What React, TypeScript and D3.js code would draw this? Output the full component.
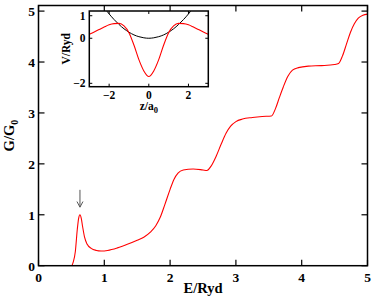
import React from 'react';
import * as d3 from 'd3';

// main curve: conductance G/G0 vs energy E/Ryd
const energy = [0, 0.5, 0.53, 0.56, 0.59, 0.61, 0.63, 0.65, 0.67, 0.7, 0.74, 0.8, 0.88, 0.95, 1.05, 1.2, 1.35, 1.5, 1.6, 1.7, 1.78, 1.85, 1.92, 2.0, 2.06, 2.12, 2.2, 2.35, 2.5, 2.56, 2.62, 2.7, 2.78, 2.85, 2.92, 3.0, 3.1, 3.25, 3.4, 3.54, 3.6, 3.66, 3.72, 3.79, 3.86, 3.95, 4.1, 4.3, 4.5, 4.56, 4.62, 4.68, 4.74, 4.8, 4.86, 4.93, 5.0];
const conductance = [0, 0, 0.08, 0.28, 0.72, 0.93, 1.0, 0.93, 0.77, 0.56, 0.42, 0.34, 0.3, 0.29, 0.3, 0.35, 0.42, 0.5, 0.56, 0.66, 0.78, 0.95, 1.2, 1.5, 1.7, 1.82, 1.88, 1.9, 1.88, 1.87, 1.95, 2.15, 2.4, 2.6, 2.74, 2.83, 2.88, 2.91, 2.93, 2.94, 3.08, 3.3, 3.51, 3.72, 3.84, 3.89, 3.92, 3.93, 3.95, 3.97, 4.12, 4.35, 4.58, 4.75, 4.86, 4.92, 4.94];

// inset: potential V/Ryd vs z/a0
const zRed = [-3, -2.75, -2.5, -2.25, -2, -1.75, -1.5, -1.25, -1, -0.75, -0.5, -0.25, 0, 0.25, 0.5, 0.75, 1, 1.25, 1.5, 1.75, 2, 2.25, 2.5, 2.75, 3];
const vRed = [0.18, 0.28, 0.39, 0.5, 0.6, 0.65, 0.66, 0.55, 0.25, -0.3, -0.95, -1.45, -1.7, -1.45, -0.95, -0.3, 0.25, 0.55, 0.66, 0.65, 0.6, 0.5, 0.39, 0.28, 0.18];
const zBlack = [-2.2, -2.1, -2, -1.75, -1.5, -1.25, -1, -0.75, -0.5, -0.25, 0, 0.25, 0.5, 0.75, 1, 1.25, 1.5, 1.75, 2, 2.1, 2.2];
const vBlack = [1.31, 1.19, 1.08, 0.83, 0.61, 0.42, 0.27, 0.15, 0.07, 0.02, 0, 0.02, 0.07, 0.15, 0.27, 0.42, 0.61, 0.83, 1.08, 1.19, 1.31];

const xTicks = [0, 1, 2, 3, 4, 5];
const yTicks = [0, 1, 2, 3, 4, 5];
const insetXTicks = [-2, 0, 2];
const insetYTicks = [-2, 0, 1];

const peakE = 0.63;

const W = 374, H = 300;
const left = 38.5, right = 367.5, top = 5.5, bottom = 265.7;
const iLeft = 89.3, iRight = 208.3, iTop = 11, iBottom = 86.7;

const serif = { fontFamily: "'Liberation Serif', 'DejaVu Serif', serif", fontWeight: 'bold' as const };

export default function App() {
  const x = d3.scaleLinear().domain([0, 5]).range([left, right]);
  const y = d3.scaleLinear().domain([0, 5.11]).range([bottom, top]);
  const ix = d3.scaleLinear().domain([-3, 3]).range([iLeft, iRight]);
  const iy = d3.scaleLinear().domain([-2.15, 1.21]).range([iBottom, iTop]);

  const mainLine = d3.line<number>()
    .x((_, i) => x(energy[i]))
    .y(d => y(d))
    .curve(d3.curveMonotoneX);
  const redLine = d3.line<number>()
    .x((_, i) => ix(zRed[i]))
    .y(d => iy(d))
    .curve(d3.curveMonotoneX);
  const blackLine = d3.line<number>()
    .x((_, i) => ix(zBlack[i]))
    .y(d => iy(d))
    .curve(d3.curveMonotoneX);

  const tl = 6;
  const itl = 3;
  const ax = x(peakE);
  const fmt = (t: number) => (t < 0 ? '\u2212' + Math.abs(t) : String(t));

  return (
    <svg width={W} height={H} style={{ position: 'absolute', left: 0, top: 0, background: '#fff' }}>
      <defs>
        <clipPath id="mainClip">
          <rect x={left} y={top} width={right - left} height={bottom - top} />
        </clipPath>
        <clipPath id="insetClip">
          <rect x={iLeft} y={iTop} width={iRight - iLeft} height={iBottom - iTop} />
        </clipPath>
      </defs>

      {/* main curve */}
      <path d={mainLine(conductance) || ''} fill="none" stroke="#ff0000" strokeWidth={1.1} clipPath="url(#mainClip)" />

      {/* arrow marking the resonance peak */}
      <g stroke="#555" strokeWidth={1} fill="none">
        <line x1={ax} x2={ax} y1={y(1.49)} y2={y(1.15)} />
        <polyline points={`${ax - 3},${y(1.26)} ${ax},${y(1.15)} ${ax + 3},${y(1.26)}`} />
      </g>

      {/* main ticks */}
      <g stroke="#000" strokeWidth={1.2}>
        {xTicks.map(t => (
          <g key={'xt' + t}>
            <line x1={x(t)} x2={x(t)} y1={bottom} y2={bottom - tl} />
            <line x1={x(t)} x2={x(t)} y1={top} y2={top + tl} />
          </g>
        ))}
        {yTicks.map(t => (
          <g key={'yt' + t}>
            <line x1={left} x2={left + tl} y1={y(t)} y2={y(t)} />
            <line x1={right} x2={right - tl} y1={y(t)} y2={y(t)} />
          </g>
        ))}
      </g>
      <rect x={left} y={top} width={right - left} height={bottom - top} fill="none" stroke="#000" strokeWidth={1.5} />

      <g style={serif} fontSize={13.5} fill="#000">
        {xTicks.map(t => (
          <text key={'xl' + t} x={x(t)} y={281.5} textAnchor="middle">{t}</text>
        ))}
        {yTicks.map(t => (
          <text key={'yl' + t} x={35} y={y(t) + 5.3} textAnchor="end">{t}</text>
        ))}
        <text x={(left + right) / 2} y={293} textAnchor="middle" fontSize={14.5}>E/Ryd</text>
        <text transform={`translate(14,${(top + bottom) / 2}) rotate(-90)`} textAnchor="middle" fontSize={14.5}>
          G/G<tspan fontSize={10} dy={4}>0</tspan>
        </text>
      </g>

      {/* inset */}
      <rect x={iLeft} y={iTop} width={iRight - iLeft} height={iBottom - iTop} fill="#fff" />
      <g clipPath="url(#insetClip)">
        <path d={blackLine(vBlack) || ''} fill="none" stroke="#000" strokeWidth={1} />
        <path d={redLine(vRed) || ''} fill="none" stroke="#ff0000" strokeWidth={1.1} />
      </g>
      <g stroke="#000" strokeWidth={1}>
        {insetXTicks.map(t => (
          <g key={'ixt' + t}>
            <line x1={ix(t)} x2={ix(t)} y1={iBottom} y2={iBottom - itl} />
            <line x1={ix(t)} x2={ix(t)} y1={iTop} y2={iTop + itl} />
          </g>
        ))}
        {insetYTicks.map(t => (
          <g key={'iyt' + t}>
            <line x1={iLeft} x2={iLeft + itl} y1={iy(t)} y2={iy(t)} />
            <line x1={iRight} x2={iRight - itl} y1={iy(t)} y2={iy(t)} />
          </g>
        ))}
      </g>
      <rect x={iLeft} y={iTop} width={iRight - iLeft} height={iBottom - iTop} fill="none" stroke="#000" strokeWidth={1.5} />
      <g style={serif} fontSize={11.5} fill="#000">
        {insetXTicks.map(t => (
          <text key={'ixl' + t} x={ix(t)} y={98.5} textAnchor="middle">{fmt(t)}</text>
        ))}
        {insetYTicks.map(t => (
          <text key={'iyl' + t} x={85.5} y={iy(t) + 4} textAnchor="end">{fmt(t)}</text>
        ))}
        <text x={ix(0)} y={109.5} textAnchor="middle">
          z/a<tspan fontSize={8.5} dy={3}>0</tspan>
        </text>
        <text transform={`translate(70,${(iTop + iBottom) / 2}) rotate(-90)`} textAnchor="middle">V/Ryd</text>
      </g>
    </svg>
  );
}
